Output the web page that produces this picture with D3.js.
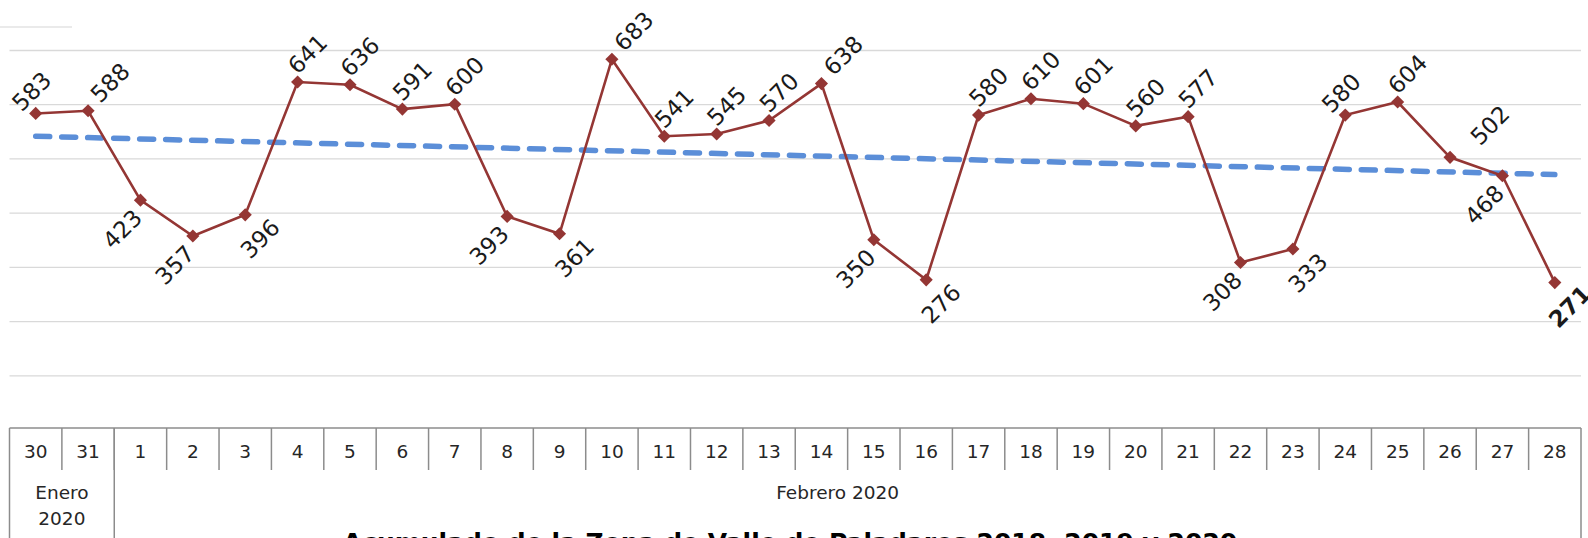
<!DOCTYPE html>
<html>
<head>
<meta charset="utf-8">
<script src="https://cdn.jsdelivr.net/npm/d3@7"></script>
<style>
  body { margin: 0; background: #fff; }
  svg { display: block; font-family: "DejaVu Sans", sans-serif; }
</style>
</head>
<body>
<svg id="chart" width="1588" height="538"></svg>
<script>
// daily values, 30 Jan - 28 Feb 2020
const days = ["30", "31", "1", "2", "3", "4", "5", "6", "7", "8", "9", "10", "11", "12", "13",
  "14", "15", "16", "17", "18", "19", "20", "21", "22", "23", "24", "25", "26", "27", "28"];
const values = [583, 588, 423, 357, 396, 641, 636, 591, 600, 393, 361, 683, 541, 545, 570,
  638, 350, 276, 580, 610, 601, 560, 577, 308, 333, 580, 604, 502, 468, 271];
const monthLabels = ["Enero 2020", "Febrero 2020"];
const monthSpans = [2, 28];
const yTicks = [100, 200, 300, 400, 500, 600, 700];
// where each data label sits relative to its point
const labelSide = ["al", "ar", "bl", "bl", "br", "a", "a", "a", "a", "bl", "br", "ar", "a", "a", "a",
  "ar", "bl", "br", "a", "a", "a", "a", "a", "bl", "br", "al", "a", "r", "bl", "br"];
const title = "Acumulado de la Zona de Valle de Paladares 2018, 2019 y 2020";

const svg = d3.select("#chart");
const plotLeft = 9.5, plotRight = 1581, plotTop = 50, axisY = 429.5;

const x = d3.scaleBand().domain(d3.range(days.length)).range([plotLeft, plotRight]);
const y = d3.scaleLinear().domain([0, 700]).range([axisY, plotTop]);
const cx = i => x(i) + x.bandwidth() / 2;

// stray line top-left
svg.append("line").attr("x1", 0).attr("x2", 72).attr("y1", 27).attr("y2", 27)
  .attr("stroke", "#e3e3e3").attr("stroke-width", 1.5);

// gridlines
svg.append("g")
  .attr("transform", `translate(${plotLeft},0)`)
  .call(d3.axisLeft(y).tickValues(yTicks).tickSize(-(plotRight - plotLeft)).tickFormat(""))
  .call(g => g.select(".domain").remove())
  .call(g => g.selectAll("line").attr("stroke", "#d9d9d9").attr("stroke-width", 1.3));

// category table
const tbl = svg.append("g").attr("stroke", "#8c8c8c").attr("stroke-width", 1.5).attr("fill", "none");
const rowTop = 428, rowMid = 470, rowBot = 540;
tbl.append("line").attr("x1", plotLeft).attr("x2", plotRight).attr("y1", rowTop).attr("y2", rowTop);
tbl.selectAll(".div").data(d3.range(1, days.length)).enter().append("line")
  .attr("x1", i => x(i)).attr("x2", i => x(i))
  .attr("y1", rowTop).attr("y2", rowMid);
let acc = 0;
const monthStarts = monthSpans.map(s => { const a = acc; acc += s; return a; });
monthStarts.forEach(s => {
  tbl.append("line").attr("x1", x(s)).attr("x2", x(s)).attr("y1", rowTop).attr("y2", rowBot);
});
tbl.append("line").attr("x1", plotRight).attr("x2", plotRight).attr("y1", rowTop).attr("y2", rowBot);

svg.append("g").selectAll("text").data(days).enter().append("text")
  .attr("x", (d, i) => cx(i)).attr("y", 458)
  .attr("text-anchor", "middle").attr("font-size", 18.5).attr("fill", "#262626")
  .text(d => d);

monthLabels.forEach((m, k) => {
  const end = monthStarts[k] + monthSpans[k];
  const x0 = x(monthStarts[k]), x1 = end >= days.length ? plotRight : x(end);
  const mid = (x0 + x1) / 2;
  const lines = monthSpans[k] < 4 ? m.split(" ") : [m];
  svg.append("text").attr("text-anchor", "middle").attr("font-size", 18.5).attr("fill", "#262626")
    .selectAll("tspan").data(lines).enter().append("tspan")
    .attr("x", mid - (lines.length > 1 ? 0 : 10)).attr("y", (d, j) => 499 + j * 26).text(d => d);
});

// trend line (least squares)
const n = values.length;
const mi = d3.mean(d3.range(n)), mv = d3.mean(values);
const slope = d3.sum(values, (v, i) => (i - mi) * (v - mv)) / d3.sum(d3.range(n), i => (i - mi) ** 2);
const icpt = mv - slope * mi;
svg.append("line")
  .attr("x1", cx(0)).attr("y1", y(icpt))
  .attr("x2", cx(n - 1)).attr("y2", y(icpt + slope * (n - 1)))
  .attr("stroke", "#5b8ed8").attr("stroke-width", 5.5)
  .attr("stroke-linecap", "round").attr("stroke-dasharray", "14 12");

// series
const color = "#943634";
svg.append("path").datum(values)
  .attr("fill", "none").attr("stroke", color).attr("stroke-width", 2.6)
  .attr("d", d3.line().x((d, i) => cx(i)).y(d => y(d)));

svg.append("g").selectAll("path").data(values).enter().append("path")
  .attr("d", d3.symbol().type(d3.symbolDiamond2).size(110))
  .attr("transform", (d, i) => `translate(${cx(i)},${y(d)})`)
  .attr("fill", color);

const offs = { a: [10, -28], ar: [22, -28], al: [-4, -22], r: [40, -32], bl: [-18, 29], br: [15, 24] };
svg.append("g").selectAll("text").data(values).enter().append("text")
  .attr("transform", (d, i) => {
    const o = offs[labelSide[i]];
    return `translate(${cx(i) + o[0]},${y(d) + o[1]}) rotate(-45)`;
  })
  .attr("text-anchor", "middle").attr("dominant-baseline", "central")
  .attr("font-size", 23).attr("fill", "#1a1a1a")
  .attr("font-weight", (d, i) => i === n - 1 ? "bold" : "normal")
  .text(d => d);

// title (cut off at bottom edge, as in the source)
svg.append("text").attr("x", 790).attr("y", 551).attr("text-anchor", "middle")
  .attr("font-size", 25).attr("font-weight", "bold").attr("fill", "#000")
  .text(title);
</script>
</body>
</html>
